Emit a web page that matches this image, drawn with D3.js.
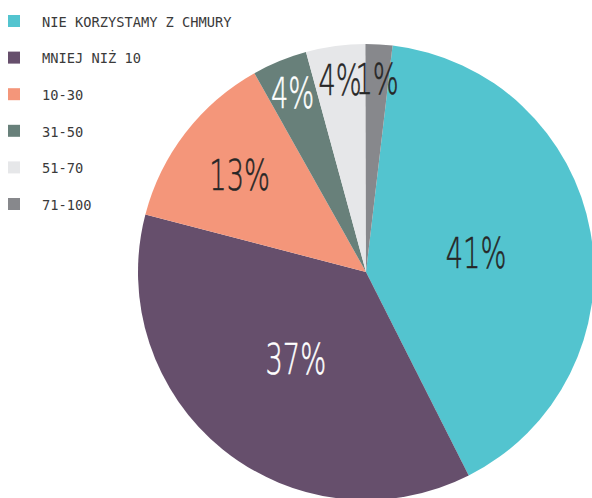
<!DOCTYPE html>
<html>
<head>
<meta charset="utf-8">
<script src="https://cdn.jsdelivr.net/npm/d3@7"></script>
<style>
  body { margin: 0; background: #fff; }
  svg { display: block; }
</style>
</head>
<body>
<svg id="chart"></svg>
<script>
// legend order = drawing order (clockwise)
const categories = ["NIE KORZYSTAMY Z CHMURY", "MNIEJ NIŻ 10", "10-30", "31-50", "51-70", "71-100"];
const values = [40.7, 36.5, 12.8, 3.9, 4.2, 1.9];
const labels = ["41%", "37%", "13%", "4%", "4%", "1%"];
const colours = ["#53c4cf", "#664f6c", "#f4967a", "#68807a", "#e6e7e9", "#87888c"];
const labelColours = ["#262626", "#ffffff", "#262626", "#ffffff", "#262626", "#262626"];

const width = 592, height = 498;
const cx = 366, cy = 272, radius = 228;
const startAngle = 6.7 * Math.PI / 180;

const svg = d3.select("#chart")
    .attr("width", width)
    .attr("height", height);

const colour = d3.scaleOrdinal(categories, colours);
const textColour = d3.scaleOrdinal(categories, labelColours);

const pie = d3.pie()
    .sort(null)
    .value(d => d.value)
    .startAngle(startAngle)
    .endAngle(startAngle + 2 * Math.PI);

const data = categories.map((c, i) => ({ cat: c, value: values[i], label: labels[i] }));
const arcs = pie(data);

const arc = d3.arc().innerRadius(0).outerRadius(radius);

// big slices get their label nearer the middle, small ones near the rim
const labelR = d => d.data.value > 30 ? radius * 0.49 : d.data.value > 10 ? radius * 0.7 : radius * 0.85;

const g = svg.append("g").attr("transform", `translate(${cx},${cy})`);

g.selectAll("path")
    .data(arcs)
    .join("path")
    .attr("d", arc)
    .attr("fill", d => colour(d.data.cat));

// condensed light look: thin face, squeezed, with a hairline stroke for weight
g.selectAll("text")
    .data(arcs)
    .join("text")
    .attr("transform", d => {
        const r = labelR(d);
        const a = d3.arc().innerRadius(r).outerRadius(r);
        return `translate(${a.centroid(d)}) scale(0.65,1)`;
    })
    .attr("text-anchor", "middle")
    .attr("dy", "0.36em")
    .attr("font-family", "'DejaVu Sans', sans-serif")
    .attr("font-weight", 200)
    .attr("font-size", 42)
    .attr("fill", d => textColour(d.data.cat))
    .attr("stroke", d => textColour(d.data.cat))
    .attr("stroke-width", 0.5)
    .text(d => d.data.label);

// legend
const ly = d3.scalePoint()
    .domain(categories)
    .range([21, 204]);

const legend = svg.append("g")
    .selectAll("g")
    .data(categories)
    .join("g")
    .attr("transform", d => `translate(8,${ly(d)})`);

legend.append("rect")
    .attr("y", -6)
    .attr("width", 12)
    .attr("height", 12)
    .attr("fill", d => colour(d));

legend.append("text")
    .attr("x", 34)
    .attr("y", 1)
    .attr("dy", "0.35em")
    .attr("font-family", "'DejaVu Sans Mono', monospace")
    .attr("font-size", 13.7)
    .attr("fill", "#3a3a3a")
    .text(d => d);
</script>
</body>
</html>
